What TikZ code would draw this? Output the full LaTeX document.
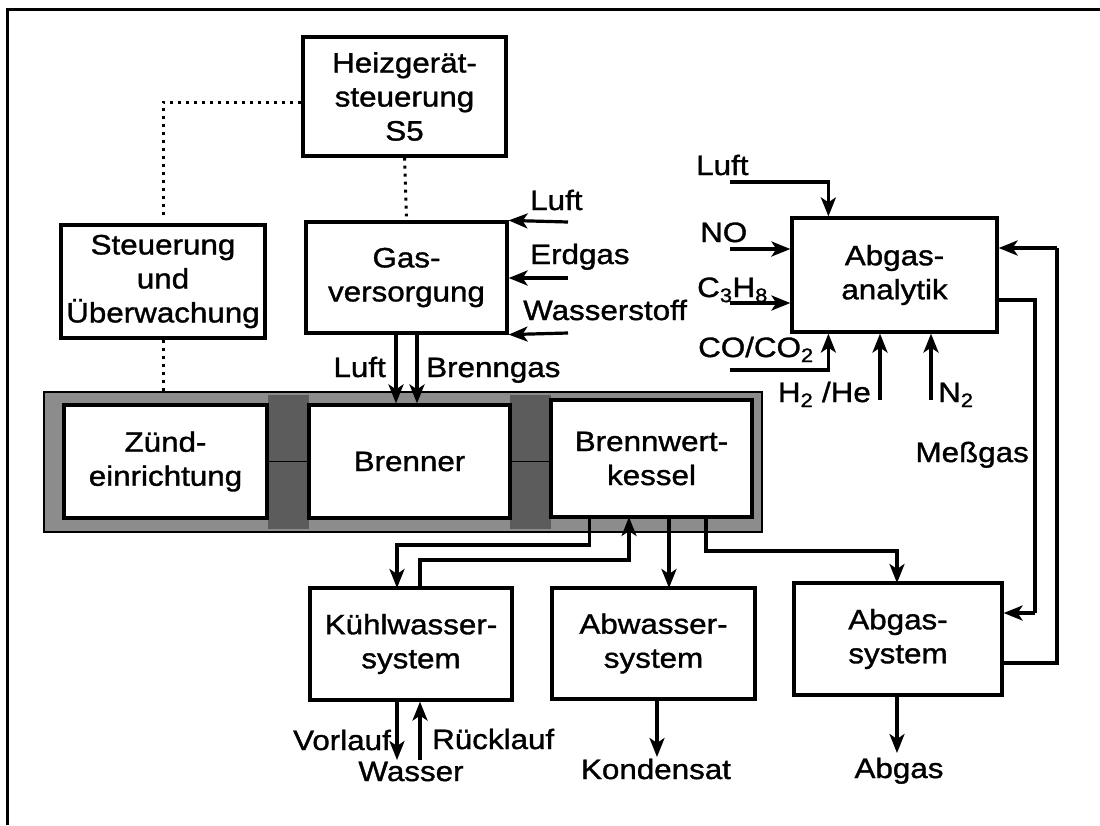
\documentclass[tikz,border=0pt]{standalone}
\usepackage{fontspec}
\setmainfont{Liberation Sans}[FakeStretch=1.12,FakeBold=1.2]
\usetikzlibrary{arrows.meta}
\begin{document}
\begin{tikzpicture}[x=1pt,y=-1pt,
  font=\fontsize{28}{34}\selectfont,
  box/.style={draw, line width=3.2pt, fill=white, align=center, inner sep=0pt},
  lbl/.style={inner sep=0pt},
  conn/.style={line width=3.2pt},
  arr/.style={line width=3.2pt, -{Stealth[length=19pt,width=15pt,inset=5pt]}},
  dots/.style={line width=3pt, dash pattern=on 3pt off 5pt},
  thin/.style={line width=0.8pt}
]
\useasboundingbox (0,0) rectangle (1100,825);
% frame (cropped: top and left edges only)
\draw[line width=3pt] (7.7,825) -- (7.7,9.3) -- (1100,9.3);

% grey band
\node[draw=black, line width=1.4pt, fill=black!45, minimum width=718pt, minimum height=140pt, inner sep=0pt] (band) at (403,462) {};
\fill[black!64] (268,395) rectangle (309,529);
\fill[black!64] (510,395) rectangle (551,529);

% boxes
\node[box, minimum width=203pt, minimum height=119pt] (heiz) at (404.5,96.5) {Heizgerät-\\steuerung\\S5};
\node[box, minimum width=204pt, minimum height=113pt] (steu) at (163,281.5) {Steuerung\\und\\Überwachung};
\node[box, minimum width=201pt, minimum height=111pt] (gas) at (406.5,277.5) {Gas-\\versorgung};
\node[box, minimum width=205pt, minimum height=114pt] (ana) at (894.5,275) {Abgas-\\analytik};
\node[box, minimum width=203pt, minimum height=113pt] (zuend) at (165.5,461.5) {Zünd-\\einrichtung};
\node[box, minimum width=201pt, minimum height=113pt] (brenner) at (409.5,461.5) {Brenner};
\node[box, minimum width=201pt, minimum height=117pt] (kessel) at (651.5,458.5) {Brennwert-\\kessel};
\node[box, minimum width=202pt, minimum height=112pt] (kuehl) at (411,644) {Kühlwasser-\\system};
\node[box, minimum width=203pt, minimum height=111pt] (abw) at (653.5,643.5) {Abwasser-\\system};
\node[box, minimum width=208pt, minimum height=112pt] (abgs) at (898,639) {Abgas-\\system};

% thin links inside band
\draw[thin] (zuend.east) -- (brenner.west);
\draw[thin] (brenner.east) -- (kessel.west |- brenner.east);

% dotted control lines
\draw[dots] ([yshift=-5.5pt]heiz.west) -| ([yshift=5pt]steu.north);
\draw[dots] (heiz.south) -- ([yshift=4pt]gas.north);
\draw[dots] (steu.south) -- (band.north -| steu.south);

% gas supply inputs
\coordinate (gLuft) at (568,222);
\coordinate (gErd) at (568,278);
\coordinate (gWas) at (568,333);
\draw[arr] (gLuft) -- (gas.north east);
\draw[arr] (gErd) -- (gErd -| gas.east);
\draw[arr] (gWas) -- (gas.south east);
\node[lbl, anchor=base west] (tLuft1) at (530,210) {Luft};
\node[lbl, anchor=base west] (tErd) at (530,264) {Erdgas};
\node[lbl, anchor=base west] (tWas) at (523,320) {Wasserstoff};

% gas supply to burner
\draw[arr] (396,333) coordinate (gs1) -- (gs1 |- brenner.north);
\draw[arr] (417,333) coordinate (gs2) -- (gs2 |- brenner.north);
\node[lbl, anchor=base east] (tLuft2) at (386,377) {Luft};
\node[lbl, anchor=base west] (tBrenn) at (426,377) {Brenngas};

% analytics inputs
\coordinate (aLuft) at (730,182);
\coordinate (aNO) at (730,249);
\coordinate (aC) at (730,303);
\coordinate (aCO) at (730,370);
\coordinate (aH) at (880,400);
\coordinate (aN) at (931,400);
\draw[arr] (aLuft) -| ([xshift=38pt]ana.north west);
\draw[arr] (aNO) -- (aNO -| ana.west);
\draw[arr] (aC) -- (aC -| ana.west);
\draw[arr] (aCO) -| ([xshift=38pt]ana.south west);
\draw[arr] (aH) -- (aH |- ana.south);
\draw[arr] (aN) -- (aN |- ana.south);
\node[lbl, anchor=base west] (tLuft3) at (696,175) {Luft};
\node[lbl, anchor=base west] (tNO) at (700,242) {NO};
\node[lbl, anchor=base west] (tC) at (697,297) {C\textsubscript{3}H\textsubscript{8}};
\node[lbl, anchor=base west] (tCO) at (698,357) {CO/CO\textsubscript{2}};
\node[lbl, anchor=base east] (tH) at (871,402) {H\textsubscript{2} /He};
\node[lbl, anchor=base west] (tN) at (938,402) {N\textsubscript{2}};

% Messgas loop
\draw[conn] (ana.east |- 0,300) coordinate (m0) -- (1035,300) -- (1035,613) coordinate (m1);
\draw[arr] (m1) -- (m1 -| abgs.east);
\draw[conn] (abgs.east |- 0,663) coordinate (r0) -- (1057,663) -- (1057,248) coordinate (r1);
\draw[arr] (r1) -- (r1 -| ana.east);
\node[lbl, anchor=base east] (tMess) at (1029,462) {Meßgas};

% from Brennwertkessel
\draw[arr] (589.5,517) coordinate (k1) -- (589.5,545) -- (397,545) -- (397,588);
\draw[arr] (420,588) -- (420,560) -- (629,560) -- (629,517);
\draw[arr] (669,517) -- (669,588);
\draw[arr] (706,517) -- (706,551) -- (897,551) -- (897,583);

% outputs
\coordinate (oVor) at (397,760);
\coordinate (oRue) at (420,760);
\coordinate (oKon) at (657,757);
\coordinate (oAbg) at (897,753);
\draw[arr] (oVor |- kuehl.south) -- (oVor);
\draw[arr] (oRue) -- (oRue |- kuehl.south);
\draw[arr] (oKon |- abw.south) -- (oKon);
\draw[arr] (oAbg |- abgs.south) -- (oAbg);
\node[lbl, anchor=base east] (tVor) at (391,750) {Vorlauf};
\node[lbl, anchor=base west] (tRue) at (432,749) {Rücklauf};
\node[lbl, anchor=base] (tWasser) at (411,781) {Wasser};
\node[lbl, anchor=base] (tKon) at (656,779) {Kondensat};
\node[lbl, anchor=base] (tAbgas) at (899,778) {Abgas};
\end{tikzpicture}
\end{document}
